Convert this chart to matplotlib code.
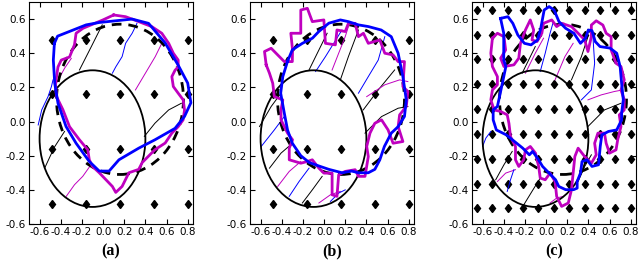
import matplotlib
matplotlib.use("Agg")
import matplotlib.pyplot as plt
from matplotlib.patches import Ellipse

# --- shapes shared by all panels ---
init_center = (-0.1, -0.1)
init_size = (1.0, 0.8)          # full width / height of the initial ellipse
true_center = (0.16, 0.13)
true_size = (1.2, 0.88)

grid_coarse = [-0.8, -0.48, -0.16, 0.16, 0.48, 0.8]
grid_fine = [-0.8, -0.655, -0.509, -0.364, -0.218, -0.073,
             0.073, 0.218, 0.364, 0.509, 0.655, 0.8]

# --- panel (a) ---
a_magenta = [(0.10, 0.624), (0.213, 0.614), (0.337, 0.585), (0.46, 0.556), (0.555, 0.517),
             (0.62, 0.458), (0.664, 0.40), (0.71, 0.36), (0.71, 0.32), (0.68, 0.30),
             (0.65, 0.263), (0.664, 0.205), (0.71, 0.166), (0.757, 0.127), (0.77, 0.068),
             (0.757, 0.01), (0.71, -0.03), (0.65, -0.068), (0.587, -0.126), (0.49, -0.165),
             (0.37, -0.24), (0.337, -0.28), (0.244, -0.30), (0.18, -0.38), (0.12, -0.415),
             (0.088, -0.38), (-0.036, -0.30), (-0.1, -0.263), (-0.13, -0.224), (-0.145, -0.165),
             (-0.223, -0.107), (-0.317, -0.03), (-0.38, 0.07), (-0.44, 0.146), (-0.45, 0.22),
             (-0.426, 0.32), (-0.395, 0.36), (-0.317, 0.378), (-0.27, 0.45), (-0.255, 0.517),
             (-0.19, 0.546), (-0.005, 0.594), (0.10, 0.624)]
a_blue = [(-0.46, 0.458), (-0.43, 0.50), (-0.16, 0.566), (-0.036, 0.58), (0.275, 0.60),
          (0.43, 0.575), (0.587, 0.46), (0.71, 0.33), (0.80, 0.225), (0.83, 0.11),
          (0.77, 0.03), (0.68, -0.04), (0.49, -0.107), (0.337, -0.156), (0.15, -0.224),
          (0.057, -0.29), (-0.036, -0.29), (-0.13, -0.234), (-0.255, -0.127), (-0.35, -0.029),
          (-0.426, 0.107), (-0.457, 0.224), (-0.47, 0.36), (-0.46, 0.458)]
a_thin = [
    ("k", [(-0.55, -0.27), (-0.46, -0.15), (-0.364, -0.058)]),
    ("k", [(-0.223, 0.302), (-0.11, 0.44), (-0.008, 0.566)]),
    ("k", [(0.39, -0.087), (0.49, -0.01), (0.62, 0.068), (0.74, 0.107)]),
    ("b", [(0.088, 0.283), (0.12, 0.32), (0.18, 0.38), (0.213, 0.458), (0.275, 0.517),
           (0.306, 0.556), (0.32, 0.575)]),
    ("b", [(-0.613, -0.02), (-0.58, 0.068), (-0.52, 0.146), (-0.488, 0.205), (-0.473, 0.244)]),
    ("m", [(-0.348, -0.438), (-0.27, -0.37), (-0.192, -0.321), (-0.114, -0.253)]),
    ("m", [(-0.44, 0.224), (-0.364, 0.312), (-0.30, 0.37)]),
    ("m", [(0.306, 0.185), (0.40, 0.283), (0.493, 0.38), (0.555, 0.458)]),
]

# --- panel (b) ---
b_magenta = [(-0.547, 0.332), (-0.563, 0.41), (-0.50, 0.429), (-0.438, 0.39), (-0.376, 0.351),
             (-0.30, 0.351), (-0.298, 0.419), (-0.314, 0.517), (-0.22, 0.517), (-0.22, 0.653),
             (-0.158, 0.663), (-0.111, 0.585), (-0.002, 0.595), (0.013, 0.458), (0.107, 0.449),
             (0.122, 0.536), (0.20, 0.527), (0.23, 0.575), (0.294, 0.575), (0.325, 0.497),
             (0.372, 0.517), (0.418, 0.458), (0.527, 0.478), (0.574, 0.40), (0.652, 0.39),
             (0.70, 0.351), (0.76, 0.351), (0.745, 0.205), (0.792, 0.176), (0.777, 0.088),
             (0.714, 0.039), (0.70, -0.029), (0.745, -0.117), (0.652, -0.127), (0.605, -0.049),
             (0.543, 0.01), (0.48, -0.01), (0.434, -0.068), (0.403, -0.146), (0.418, -0.205),
             (0.387, -0.321), (0.325, -0.321), (0.294, -0.282), (0.20, -0.292), (0.138, -0.312),
             (0.122, -0.438), (0.076, -0.429), (0.076, -0.302), (-0.002, -0.302), (-0.049, -0.273),
             (-0.111, -0.224), (-0.158, -0.234), (-0.22, -0.244), (-0.329, -0.224), (-0.329, -0.156),
             (-0.298, -0.107), (-0.345, -0.068), (-0.376, -0.029), (-0.407, 0.01), (-0.407, 0.068),
             (-0.39, 0.127), (-0.47, 0.146), (-0.485, 0.224), (-0.516, 0.283), (-0.547, 0.332)]
b_blue = [(-0.345, 0.353), (-0.30, 0.42), (-0.205, 0.458), (-0.11, 0.488), (-0.05, 0.527),
          (0.045, 0.576), (0.154, 0.595), (0.23, 0.585), (0.325, 0.566), (0.42, 0.556),
          (0.54, 0.536), (0.635, 0.497), (0.70, 0.40), (0.745, 0.263), (0.777, 0.127),
          (0.76, 0.03), (0.70, -0.03), (0.635, -0.068), (0.57, -0.146), (0.527, -0.224),
          (0.48, -0.28), (0.418, -0.30), (0.325, -0.30), (0.26, -0.29), (0.17, -0.30),
          (0.045, -0.28), (-0.05, -0.26), (-0.14, -0.24), (-0.22, -0.20), (-0.30, -0.127),
          (-0.345, -0.05), (-0.376, 0.05), (-0.41, 0.166), (-0.39, 0.263), (-0.345, 0.353)]
b_thin = [
    ("k", [(-0.61, -0.029), (-0.50, 0.088), (-0.407, 0.166)]),
    ("b", [(-0.594, -0.146), (-0.47, -0.049), (-0.376, 0.029)]),
    ("k", [(-0.516, -0.273), (-0.407, -0.185), (-0.298, -0.127)]),
    ("m", [(-0.438, -0.38), (-0.329, -0.292), (-0.22, -0.234)]),
    ("b", [(-0.329, -0.438), (-0.236, -0.351), (-0.142, -0.273)]),
    ("k", [(-0.205, -0.477), (-0.111, -0.40), (-0.018, -0.321)]),
    ("m", [(-0.049, -0.477), (0.06, -0.429), (0.154, -0.409)]),
    ("b", [(0.06, -0.468), (0.138, -0.419), (0.20, -0.40)]),
    ("k", [(-0.142, 0.302), (-0.064, 0.40), (0.029, 0.517)]),
    ("b", [(-0.08, 0.293), (0.013, 0.38), (0.091, 0.458), (0.169, 0.536)]),
    ("m", [(0.076, 0.302), (0.138, 0.40), (0.20, 0.497), (0.23, 0.556)]),
    ("k", [(0.154, 0.244), (0.23, 0.38), (0.325, 0.536)]),
    ("b", [(0.325, 0.166), (0.418, 0.263), (0.512, 0.36), (0.574, 0.497)]),
    ("k", [(0.37, 0.068), (0.512, 0.185), (0.667, 0.302)]),
    ("m", [(0.403, 0.146), (0.574, 0.215), (0.714, 0.244), (0.792, 0.234)]),
    ("k", [(0.387, -0.068), (0.543, 0.029), (0.70, 0.078), (0.792, 0.088)]),
]

# --- panel (c) ---
c_magenta = [(-0.507, 0.488), (-0.46, 0.517), (-0.398, 0.497), (-0.382, 0.419), (-0.429, 0.371),
             (-0.398, 0.322), (-0.304, 0.332), (-0.258, 0.371), (-0.242, 0.458), (-0.195, 0.536),
             (-0.149, 0.595), (-0.117, 0.536), (-0.133, 0.478), (-0.086, 0.468), (-0.04, 0.517),
             (-0.024, 0.575), (0.054, 0.595), (0.10, 0.556), (0.147, 0.575), (0.24, 0.556),
             (0.303, 0.517), (0.365, 0.478), (0.396, 0.41), (0.428, 0.497), (0.428, 0.565),
             (0.474, 0.59), (0.537, 0.565), (0.568, 0.517), (0.615, 0.497), (0.615, 0.42),
             (0.661, 0.341), (0.708, 0.322), (0.739, 0.244), (0.708, 0.185), (0.739, 0.127),
             (0.739, 0.068), (0.692, 0.039), (0.708, -0.029), (0.677, -0.107), (0.661, -0.166),
             (0.60, -0.185), (0.568, -0.127), (0.552, -0.068), (0.49, -0.068), (0.459, -0.127),
             (0.474, -0.195), (0.428, -0.244), (0.365, -0.205), (0.303, -0.156), (0.272, -0.205),
             (0.256, -0.302), (0.24, -0.40), (0.21, -0.477), (0.147, -0.497), (0.10, -0.438),
             (0.085, -0.351), (0.038, -0.302), (-0.008, -0.341), (-0.055, -0.331), (-0.07, -0.263),
             (-0.10, -0.185), (-0.149, -0.146), (-0.195, -0.166), (-0.211, -0.224), (-0.258, -0.263),
             (-0.289, -0.224), (-0.289, -0.146), (-0.336, -0.088), (-0.351, -0.01), (-0.367, 0.039),
             (-0.429, 0.059), (-0.491, 0.068), (-0.522, 0.127), (-0.507, 0.185), (-0.46, 0.215),
             (-0.46, 0.263), (-0.507, 0.322), (-0.522, 0.40), (-0.507, 0.488)]
c_blue = [(-0.43, 0.604), (-0.36, 0.614), (-0.314, 0.575), (-0.267, 0.507), (-0.205, 0.458),
          (-0.142, 0.449), (-0.08, 0.478), (-0.05, 0.546), (-0.018, 0.653), (0.029, 0.673),
          (0.076, 0.653), (0.122, 0.585), (0.185, 0.546), (0.263, 0.517), (0.325, 0.458),
          (0.372, 0.488), (0.40, 0.536), (0.434, 0.532), (0.465, 0.468), (0.51, 0.439),
          (0.605, 0.43), (0.668, 0.40), (0.70, 0.322), (0.714, 0.224), (0.73, 0.127),
          (0.714, 0.049), (0.714, 0.010), (0.668, -0.049), (0.59, -0.058), (0.527, -0.078),
          (0.512, -0.146), (0.496, -0.253), (0.434, -0.263), (0.387, -0.224), (0.34, -0.234),
          (0.325, -0.302), (0.294, -0.351), (0.294, -0.39), (0.26, -0.399), (0.185, -0.399),
          (0.12, -0.38), (0.09, -0.341), (0.029, -0.302), (-0.033, -0.263), (-0.08, -0.215),
          (-0.127, -0.175), (-0.158, -0.195), (-0.22, -0.156), (-0.298, -0.117), (-0.376, -0.078),
          (-0.47, -0.049), (-0.50, 0.010), (-0.50, 0.068), (-0.46, 0.088), (-0.413, 0.224),
          (-0.38, 0.322), (-0.40, 0.36), (-0.40, 0.517), (-0.43, 0.604)]
c_thin = [
    ("b", [(-0.60, -0.146), (-0.569, -0.097), (-0.522, -0.058)]),
    ("k", [(-0.476, -0.341), (-0.398, -0.253), (-0.32, -0.175)]),
    ("m", [(-0.46, -0.351), (-0.382, -0.302), (-0.289, -0.282)]),
    ("b", [(-0.367, -0.409), (-0.336, -0.341), (-0.304, -0.282)]),
    ("k", [(-0.21, -0.487), (-0.133, -0.409), (-0.055, -0.331)]),
    ("m", [(0.038, -0.477), (0.10, -0.448), (0.163, -0.438)]),
    ("k", [(0.303, -0.351), (0.365, -0.263), (0.428, -0.195)]),
    ("k", [(-0.226, 0.283), (-0.164, 0.361), (-0.102, 0.439)]),
    ("m", [(-0.195, 0.283), (-0.102, 0.40), (-0.024, 0.488)]),
    ("b", [(-0.055, 0.293), (-0.008, 0.40), (0.038, 0.517), (0.069, 0.585)]),
    ("m", [(0.085, 0.244), (0.178, 0.38), (0.256, 0.458)]),
    ("k", [(0.24, 0.244), (0.334, 0.38), (0.396, 0.497)]),
    ("b", [(0.334, 0.127), (0.428, 0.185), (0.459, 0.341), (0.443, 0.497), (0.428, 0.536)]),
    ("m", [(0.396, 0.127), (0.521, 0.156), (0.646, 0.176), (0.724, 0.185)]),
    ("k", [(0.396, -0.029), (0.552, 0.068), (0.708, 0.107)]),
]

panels = [
    ("(a)", grid_coarse, a_thin, a_magenta, a_blue),
    ("(b)", grid_coarse, b_thin, b_magenta, b_blue),
    ("(c)", grid_fine, c_thin, c_magenta, c_blue),
]
colors = {"k": "black", "b": "#0000ff", "m": "#bf00bf"}

fig = plt.figure(figsize=(6.4, 2.64), dpi=100)
lefts = [29 / 640, 250 / 640, 472 / 640]

for left, (label, grid, thin, mag, blue) in zip(lefts, panels):
    ax = fig.add_axes([left, 40 / 264, 164 / 640, 222 / 264])

    # diamond grid
    gx = [x for y in grid for x in grid]
    gy = [y for y in grid for x in grid]
    ax.plot(gx, gy, "d", color="black", markersize=4.5, zorder=2)

    # thin trajectories
    for c, pts in thin:
        ax.plot([p[0] for p in pts], [p[1] for p in pts], color=colors[c], lw=0.7, zorder=3)

    ax.add_patch(Ellipse(init_center, *init_size, fill=False, ec="black", lw=1.3, zorder=3))
    ax.add_patch(Ellipse(true_center, *true_size, fill=False, ec="black", lw=2,
                         ls=(0, (3.5, 2.5)), zorder=4))

    ax.plot([p[0] for p in mag], [p[1] for p in mag], color=colors["m"], lw=2, zorder=5)
    ax.plot([p[0] for p in blue], [p[1] for p in blue], color=colors["b"], lw=2, zorder=6)

    ax.set_xlim(-0.7, 0.85)
    ax.set_ylim(-0.6, 0.7)
    ax.set_xticks([-0.6, -0.4, -0.2, 0.0, 0.2, 0.4, 0.6, 0.8])
    ax.set_yticks([-0.6, -0.4, -0.2, 0.0, 0.2, 0.4, 0.6])
    ax.tick_params(direction="in", top=True, right=True, labelsize=7.5, length=3.5, pad=2)
    ax.xaxis.set_major_formatter(plt.FormatStrFormatter("%.1f"))
    ax.yaxis.set_major_formatter(plt.FormatStrFormatter("%.1f"))

    ax.text(0.5, -0.125, label, transform=ax.transAxes, ha="center", va="center",
            fontsize=11.5, fontweight="bold", family="Liberation Serif")

fig.savefig("out.png", dpi=100)
